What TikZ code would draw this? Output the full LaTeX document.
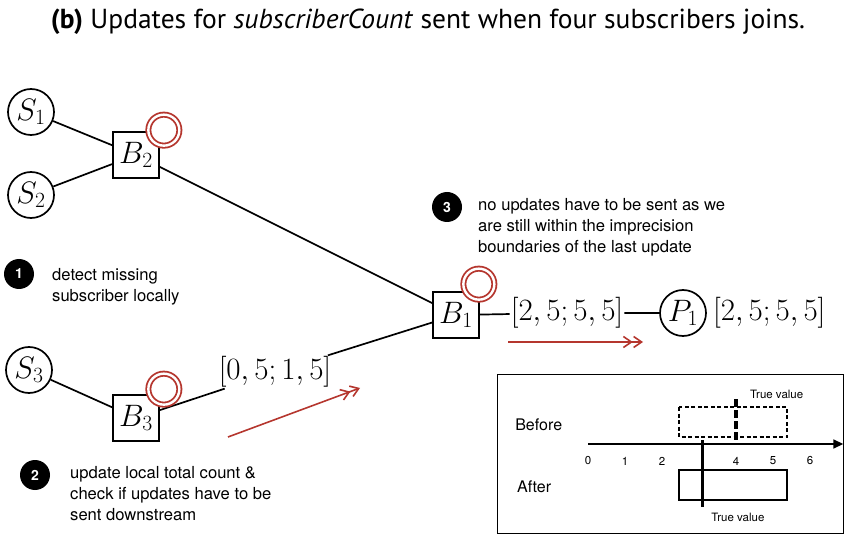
\RequirePackage{fix-cm}
\documentclass[tikz,border=0pt]{standalone}
\usepackage[no-math]{fontspec}
\setmainfont{TeX Gyre Heros}
\newfontfamily\titlefont{PT Sans}
\usetikzlibrary{positioning,arrows.meta}
\definecolor{UpdRed}{HTML}{B5362E}

\begin{document}
\begin{tikzpicture}[x=1pt,y=-1pt,
  mathbig/.style={font=\fontsize{31}{36}\selectfont},
  sub/.style={circle, draw, line width=1.7pt, minimum size=46pt, inner sep=0pt, mathbig},
  broker/.style={rectangle, draw, line width=1.7pt, minimum size=46pt, inner sep=0pt, fill=white, mathbig},
  updmark/.style={circle, draw=UpdRed, fill=white, line width=1.8pt, double=white, double distance=2.4pt, minimum size=31pt, inner sep=0pt},
  stepnum/.style={circle, fill=black, text=white, font=\fontsize{14}{14}\selectfont\bfseries, minimum size=30pt, inner sep=0pt},
  note/.style={anchor=north west, align=left, font=\fontsize{16.6}{21}\selectfont, inner sep=0pt},
  link/.style={line width=1.7pt},
  flow/.style={UpdRed, line width=1.6pt, -{Straight Barb[length=8pt,width=11pt] Straight Barb[length=8pt,width=11pt]}}
]
  \useasboundingbox (0,0) rectangle (846,537);
  % title
  \node[font=\titlefont\fontsize{27.5}{32}\selectfont] (title) at (428,22)
    {\textbf{(b)} Updates for \textit{subscriberCount} sent when four subscribers joins.};

  % subscribers, brokers, publisher
  \node[sub] (S1) at (31,112) {$S_1$};
  \node[sub] (S2) at (31,195) {$S_2$};
  \node[sub] (S3) at (29,370) {$S_3$};
  \node[broker] (B2) at (136,155) {$B_2$};
  \node[broker] (B3) at (136,418) {$B_3$};
  \node[broker] (B1) at (456,315) {$B_1$};
  \node[sub] (P1) at (683,313) {$P_1$};

  % links
  \draw[link] (S1) -- (B2);
  \draw[link] (S2) -- (B2);
  \draw[link] (S3) -- (B3);
  \draw[link] (B2) -- (B1);
  \node[mathbig, inner sep=1pt] (v3) at (275,372) {$[0,5;1,5]$};
  \draw[link] (B3) -- (v3) -- (B1);
  \node[mathbig, inner sep=1pt] (v1) at (567,313) {$[2,5;5,5]$};
  \draw[link] (B1) -- (v1) -- (P1);
  \node[mathbig, anchor=west, inner sep=1pt] (vp) at ([xshift=5pt]P1.east) {$[2,5;5,5]$};

  % update markers
  \node[updmark] (u2) at ([shift={(4,-1)}]B2.north east) {};
  \node[updmark] (u3) at ([shift={(4,-5)}]B3.north east) {};
  \node[updmark] (u1) at ([shift={(-1,-7)}]B1.north east) {};

  % update flow
  \coordinate (f3a) at (228,437);
  \coordinate (f3b) at (360,388);
  \draw[flow] (f3a) -- (f3b);
  \coordinate (f1a) at (508,342);
  \coordinate (f1b) at (643,342);
  \draw[flow] (f1a) -- (f1b);

  % steps
  \node[stepnum] (n1) at (19,274) {1};
  \node[note] (t1) at (52,268) {detect missing\\subscriber locally};
  \node[stepnum] (n2) at (35,475) {2};
  \node[note] (t2) at (70,466) {update local total count \&\\check if updates have to be\\sent downstream};
  \node[stepnum] (n3) at (447,207) {3};
  \node[note] (t3) at (478,198) {no updates have to be sent as we\\are still within the imprecision\\boundaries of the last update};

  % imprecision inset
  \draw[line width=1pt] (497,374) rectangle (843,533);
  \begin{scope}[shift={(588,444)}, x=37pt]
    \draw[line width=1.6pt, -{Triangle[length=10pt,width=9pt]}] (0,0) -- (6.9,0);
    \foreach \v in {0,1,2,4,5,6}
      \node[font=\fontsize{11.5}{11.5}\selectfont] (tk\v) at (\v,17) {\v};
    \draw[line width=1.3pt, dash pattern=on 4pt off 2.5pt] (2.46,-37) rectangle (5.38,-7);
    \draw[line width=3.2pt, dash pattern=on 8pt off 3pt] (4,-45) -- (4,-3);
    \draw[line width=1.3pt] (2.46,26) rectangle (5.38,56);
    \draw[line width=3.2pt] (3.1,-4) -- (3.1,63);
    \node[font=\fontsize{11.5}{11.5}\selectfont] (tv1) at (5.1,-50) {True value};
    \node[font=\fontsize{11.5}{11.5}\selectfont] (tv2) at (4.05,73) {True value};
    \node[font=\fontsize{16}{16}\selectfont, anchor=west, inner sep=0pt] (bef) at (-1.97,-19) {Before};
    \node[font=\fontsize{16}{16}\selectfont, anchor=west, inner sep=0pt] (aft) at (-1.92,43) {After};
  \end{scope}
\end{tikzpicture}
\end{document}
